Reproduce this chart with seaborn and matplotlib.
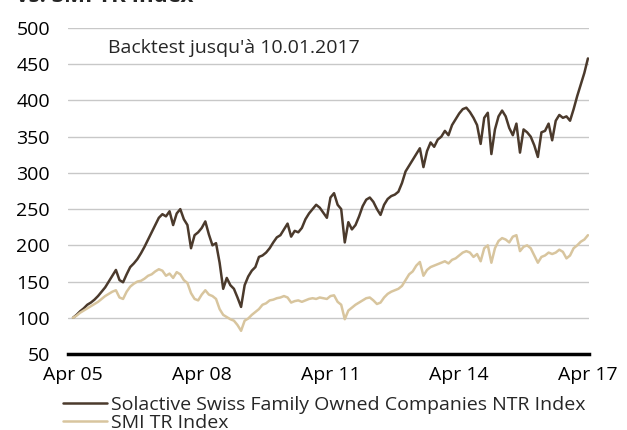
import numpy as np
import pandas as pd
import matplotlib
matplotlib.use("Agg")
import matplotlib.pyplot as plt
import seaborn as sns

# monthly index levels, Apr 2005 .. Apr 2017
family_owned = [
    100, 104, 109, 113, 118, 121, 125, 130, 136,                      # 2005 Apr-Dec
    142, 150, 158, 166, 152, 149, 160, 170, 175, 181, 189, 198,       # 2006
    208, 218, 228, 238, 243, 240, 247, 228, 244, 250, 236, 228,       # 2007
    196, 214, 218, 224, 233, 215, 200, 203, 176, 140, 155, 145,       # 2008
    140, 128, 115, 145, 157, 165, 170, 184, 186, 190, 196, 204,       # 2009
    211, 214, 222, 230, 212, 220, 218, 224, 236, 244, 250, 256,       # 2010
    252, 245, 238, 266, 272, 256, 250, 204, 232, 222, 228, 240,       # 2011
    254, 263, 266, 260, 250, 242, 256, 264, 268, 270, 274, 286,       # 2012
    302, 310, 318, 326, 334, 308, 330, 342, 336, 346, 350, 358,       # 2013
    352, 366, 374, 382, 388, 390, 384, 376, 366, 340, 376, 383,       # 2014
    326, 360, 378, 386, 378, 362, 352, 368, 328, 360, 356, 350,       # 2015
    338, 322, 356, 358, 368, 345, 372, 380, 376, 378, 372, 388,       # 2016
    406, 422, 438, 458,                                               # 2017
]
smi_tr = [
    100, 103, 107, 110, 113, 116, 119, 122, 126,
    130, 133, 136, 138, 128, 126, 136, 143, 147, 150, 151, 154,
    158, 160, 164, 167, 165, 158, 161, 155, 163, 160, 152, 148,
    134, 126, 124, 132, 138, 132, 130, 126, 112, 104, 101, 98,
    96, 90, 82, 96, 99, 104, 108, 112, 118, 120, 124, 125,
    127, 128, 130, 128, 121, 123, 124, 122, 124, 126, 127, 126,
    128, 127, 126, 130, 131, 122, 118, 98, 110, 114, 118, 121,
    124, 127, 128, 124, 119, 121, 128, 133, 136, 138, 140, 144,
    152, 160, 164, 172, 177, 158, 166, 170, 172, 174, 176, 178,
    175, 180, 182, 186, 190, 192, 190, 184, 188, 178, 196, 200,
    176, 196, 206, 210, 208, 204, 212, 214, 192, 198, 200, 196,
    186, 176, 184, 186, 190, 188, 190, 194, 191, 182, 186, 196,
    200, 205, 208, 214,
]
tick_labels = ["Apr 05", "Apr 08", "Apr 11", "Apr 14", "Apr 17"]
series_names = ["Solactive Swiss Family Owned Companies NTR Index", "SMI TR Index"]

n = len(family_owned)
df = pd.DataFrame({
    "month": list(range(n)) * 2,
    "value": family_owned + smi_tr,
    "series": [series_names[0]] * n + [series_names[1]] * n,
})

sns.set_style("white")
plt.rcParams["font.family"] = ["Open Sans", "DejaVu Sans"]

fig = plt.figure(figsize=(6.27, 4.30), dpi=100)
ax = fig.add_axes([68 / 627, 1 - 354 / 430, 521 / 627, 326 / 430])

sns.lineplot(data=df, x="month", y="value", hue="series",
             palette=["#4b3a2c", "#d8c59e"], linewidth=1.8, ax=ax)

ax.set_xlim(-1.4, n - 1 + 0.3)
ax.set_ylim(50, 500)
ax.set_yticks(range(50, 501, 50))
ax.set_xticks(np.linspace(0, n - 1, len(tick_labels)))
ax.set_xticklabels(tick_labels)
ax.yaxis.grid(True, color="#c8c8c8", linewidth=1)
ax.set_axisbelow(True)
ax.tick_params(axis="both", length=0, labelsize=14, colors="black")
ax.tick_params(axis="x", pad=9)
ax.tick_params(axis="y", pad=13)
for side in ["top", "right", "left"]:
    ax.spines[side].set_visible(False)
ax.spines["bottom"].set_color("black")
ax.spines["bottom"].set_linewidth(2.5)
ax.set_xlabel("")
ax.set_ylabel("")

ax.text(108 / 627, 1 - 48 / 430, "Backtest jusqu'à 10.01.2017", transform=fig.transFigure,
        fontsize=14, va="center", ha="left")
fig.text(16 / 627, 1 - 2 / 430, "vs. SMI TR Index", fontsize=16, fontweight="bold",
         va="baseline", ha="left")

ax.legend(loc="upper left", bbox_to_anchor=(53 / 627, 1 - 386 / 430),
          bbox_transform=fig.transFigure, frameon=False, fontsize=14,
          handlelength=2.3, handletextpad=0.2, labelspacing=0.0, borderpad=0)

fig.savefig("out.png", dpi=100)
